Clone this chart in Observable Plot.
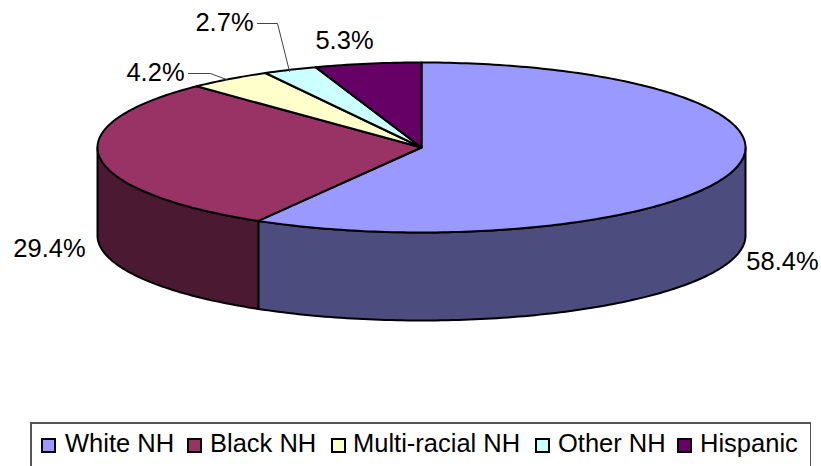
<!DOCTYPE html>
<html><head><meta charset="utf-8">
<script src="https://cdn.jsdelivr.net/npm/d3@7"></script>
<script src="https://cdn.jsdelivr.net/npm/@observablehq/plot@0.6"></script>
<style>
html,body{margin:0;padding:0;background:#fff;width:821px;height:466px;overflow:hidden}
#chart{position:absolute;left:0;top:0}
#legend{position:absolute;left:30px;top:422px;width:778px;height:60px;border:1px solid #555;border-width:2px 1px 1px 2px;background:#fff;box-sizing:content-box;font:25.5px "Liberation Sans",Arial,sans-serif;color:#000}
#legend span{position:absolute;top:4px;line-height:30px;white-space:nowrap}
#legend i{position:absolute;top:14px;width:11px;height:11px;border:2px solid #000;display:block}
</style></head><body>
<div id="chart"></div><div id="legend"></div>
<script>
const categories = ["White NH","Black NH","Multi-racial NH","Other NH","Hispanic"];
const values = [58.4,29.4,4.2,2.7,5.3];
const labels = ["58.4%","29.4%","4.2%","2.7%","5.3%"];
const topColors = ["#9999FF","#993366","#FFFFCC","#CCFFFF","#660066"];
const sideColors = ["#4C4C7F","#4C1933","#7F7F66","#667F7F","#330033"];

// geometry of the tilted disc
const cx=421, cy=147, rx=324, ry=85, depth=88, step=Math.PI/180;
const px=a=>cx+rx*Math.sin(a), py=a=>cy-ry*Math.cos(a);
const total=d3.sum(values);
let acc=0;
const arcs=categories.map((c,i)=>{const a0=acc/total*2*Math.PI;acc+=values[i];return {c,a0,a1:acc/total*2*Math.PI};});

const rimPts=(a0,a1)=>{const n=Math.max(2,Math.ceil((a1-a0)/step));return d3.range(n+1).map(k=>a0+(a1-a0)*k/n);};
const tops=arcs.flatMap(({c,a0,a1})=>[
  {k:c,x:cx,y:cy},...rimPts(a0,a1).map(a=>({k:c,x:px(a),y:py(a)})),{k:c,x:cx,y:cy}]);
const sides=arcs.flatMap(({c,a0,a1})=>{
  const s=Math.max(a0,Math.PI/2), e=Math.min(a1,1.5*Math.PI);
  if(e<=s) return [];
  const r=rimPts(s,e), key=c+" side";
  return [...r.map(a=>({k:key,x:px(a),y:py(a)})),
          ...r.slice().reverse().map(a=>({k:key,x:px(a),y:py(a)+depth})),
          {k:key,x:px(s),y:py(s)}];
});

// manually placed data labels and their leader lines, as in the source chart
const labelPlace=[[782,261],[49,248],[155,72],[224,22],[344,40]];
const labelRows=labels.map((t,i)=>({t,x:labelPlace[i][0],y:labelPlace[i][1]}));
const leaders=[
  {k:"a",x:188,y:73},{k:"a",x:210,y:73},{k:"a",x:226,y:79},
  {k:"b",x:257,y:23},{k:"b",x:277,y:23},{k:"b",x:289,y:71}];

const plot=Plot.plot({
  width:821,height:420,margin:0,
  x:{domain:[0,821],range:[0,821],axis:null},
  y:{domain:[0,420],range:[0,420],axis:null},
  color:{type:"ordinal",domain:[...categories,...categories.map(c=>c+" side")],range:[...topColors,...sideColors]},
  style:{background:"#fff"},
  marks:[
    Plot.line(sides,{x:"x",y:"y",z:"k",fill:"k",stroke:"#000",strokeWidth:2,strokeLinejoin:"round"}),
    Plot.line(tops,{x:"x",y:"y",z:"k",fill:"k",stroke:"#000",strokeWidth:2,strokeLinejoin:"round"}),
    Plot.line(leaders,{x:"x",y:"y",z:"k",stroke:"#444",strokeWidth:1}),
    Plot.text(labelRows,{x:"x",y:"y",text:"t",fontSize:25.5,fontFamily:"Liberation Sans, Arial, sans-serif",fill:"#000",textAnchor:"middle",lineAnchor:"middle"})
  ]
});
document.getElementById("chart").append(plot);

const lx=[[9,33],[155,178],[299,321],[503,526],[645,668]];
const lg=document.getElementById("legend");
categories.forEach((c,i)=>{
  const sw=document.createElement("i");sw.style.left=lx[i][0]+"px";sw.style.background=topColors[i];lg.append(sw);
  const t=document.createElement("span");t.style.left=lx[i][1]+"px";t.textContent=c;lg.append(t);
});
</script></body></html>
